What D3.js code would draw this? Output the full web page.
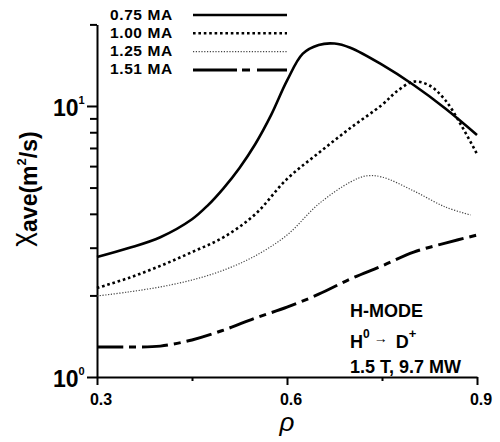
<!DOCTYPE html>
<html lang="en">
<head>
    <meta charset="UTF-8">
    <title>chi ave vs rho</title>
    <script src="https://d3js.org/d3.v7.min.js"></script>
    <style>
        body {
            margin: 0;
            background-color: #fff;
            font-family: "Liberation Sans", Arial, sans-serif;
        }
        .axis path, .axis line {
            stroke: #000;
            stroke-width: 2px;
        }
        .lbl {
            font-weight: bold;
            fill: #000;
        }
    </style>
</head>
<body>
    <svg width="500" height="442"></svg>
    <script>
        // values
        const rho075 = [0.30, 0.35, 0.40, 0.45, 0.475, 0.50, 0.525, 0.55, 0.575, 0.60, 0.625, 0.65, 0.675, 0.70, 0.75, 0.80, 0.85, 0.90];
        const chi075 = [2.77, 2.99, 3.28, 3.82, 4.3, 4.98, 5.91, 7.24, 9.27, 12.4, 15.6, 16.8, 17.0, 16.4, 14.2, 11.95, 9.79, 7.82];

        const rho100 = [0.30, 0.35, 0.40, 0.45, 0.50, 0.55, 0.60, 0.65, 0.70, 0.75, 0.775, 0.80, 0.825, 0.85, 0.875, 0.90];
        const chi100 = [2.13, 2.32, 2.57, 2.89, 3.28, 3.99, 5.38, 6.71, 8.29, 10.1, 11.4, 12.3, 11.9, 10.5, 8.5, 6.65];

        const rho125 = [0.30, 0.35, 0.40, 0.45, 0.50, 0.55, 0.60, 0.65, 0.70, 0.725, 0.75, 0.80, 0.85, 0.89];
        const chi125 = [1.99, 2.06, 2.15, 2.28, 2.48, 2.80, 3.34, 4.35, 5.24, 5.52, 5.47, 4.86, 4.24, 3.96];

        const rho151 = [0.30, 0.35, 0.40, 0.45, 0.50, 0.55, 0.60, 0.65, 0.70, 0.75, 0.80, 0.85, 0.90];
        const chi151 = [1.29, 1.29, 1.30, 1.37, 1.49, 1.65, 1.81, 2.02, 2.30, 2.57, 2.89, 3.12, 3.34];

        const seriesNames = ["0.75 MA", "1.00 MA", "1.25 MA", "1.51 MA"];
        const xTicks = [0.3, 0.6, 0.9];
        const xMinor = [0.45, 0.75];
        const yMajor = [1, 10];
        const yMinor = [2, 3, 4, 5, 6, 7, 8, 9, 20];

        const svg = d3.select("svg");

        const x = d3.scaleLinear().domain([0.3, 0.9]).range([97, 477]);
        const y = d3.scaleLog().domain([1, 20]).range([377, 24.4]);

        const styles = [
            { width: 2.6, dash: null, color: "#000" },
            { width: 2.6, dash: "2.6,2.8", color: "#000" },
            { width: 1.2, dash: "1.2,1.6", color: "#444" },
            { width: 3, dash: "26,6,7,6", color: "#000" }
        ];

        const series = [
            d3.zip(rho075, chi075),
            d3.zip(rho100, chi100),
            d3.zip(rho125, chi125),
            d3.zip(rho151, chi151)
        ];

        // axes
        const yAxis = svg.append("g")
            .attr("class", "axis")
            .attr("transform", "translate(97,0)")
            .call(d3.axisLeft(y).tickValues(yMajor.concat(yMinor)).tickFormat("").tickSizeOuter(0));
        yAxis.selectAll(".tick line").attr("x2", d => yMajor.includes(d) ? -10 : -7);

        const xAxis = svg.append("g")
            .attr("class", "axis")
            .attr("transform", "translate(0,377)")
            .call(d3.axisBottom(x).tickValues(xTicks.concat(xMinor)).tickFormat("").tickSizeOuter(0));
        xAxis.selectAll(".tick line").attr("y2", d => xTicks.includes(d) ? 8 : 4);

        // x tick labels
        svg.append("g").selectAll("text")
            .data(xTicks)
            .join("text")
            .attr("class", "lbl")
            .attr("x", d => x(d) + 4)
            .attr("y", 405)
            .attr("text-anchor", "middle")
            .attr("font-size", 16)
            .text(d => d3.format(".1f")(d));

        // y tick labels 10^n
        const yl = svg.append("g").selectAll("text")
            .data(yMajor)
            .join("text")
            .attr("class", "lbl")
            .attr("x", 53)
            .attr("y", d => y(d) + 10)
            .attr("font-size", 23);
        yl.append("tspan").text("10");
        yl.append("tspan").attr("font-size", 11).attr("dy", -12).text(d => Math.round(Math.log10(d)));

        // y axis label
        const ylab = svg.append("text")
            .attr("transform", "translate(37,189) rotate(-90)")
            .attr("text-anchor", "middle")
            .attr("fill", "#000");
        ylab.append("tspan").attr("font-size", 28).attr("dy", -6).text("χ");
        ylab.append("tspan").attr("font-size", 23).attr("font-weight", "bold").attr("dy", 6).text("ave(m");
        ylab.append("tspan").attr("font-size", 13).attr("font-weight", "bold").attr("dy", -11).text("2");
        ylab.append("tspan").attr("font-size", 23).attr("font-weight", "bold").attr("dy", 11).text("/s)");

        // x axis label
        svg.append("text")
            .attr("x", x(0.6))
            .attr("y", 431)
            .attr("text-anchor", "middle")
            .attr("font-size", 26)
            .attr("font-style", "italic")
            .text("ρ");

        // curves
        const line = d3.line()
            .x(d => x(d[0]))
            .y(d => y(d[1]))
            .curve(d3.curveCatmullRom);

        svg.append("g").selectAll("path")
            .data(series)
            .join("path")
            .attr("fill", "none")
            .attr("stroke", (d, i) => styles[i].color)
            .attr("stroke-width", (d, i) => styles[i].width)
            .attr("stroke-dasharray", (d, i) => styles[i].dash)
            .attr("d", line);

        // legend
        const leg = svg.append("g").selectAll("g")
            .data(seriesNames)
            .join("g")
            .attr("transform", (d, i) => `translate(0,${15 + i * 18.3})`);
        leg.append("text")
            .attr("class", "lbl")
            .attr("x", 110)
            .attr("y", 4.5)
            .attr("font-size", 15.5)
            .attr("letter-spacing", 0.6)
            .text(d => d);
        leg.append("line")
            .attr("x1", 193).attr("x2", 287)
            .attr("stroke", (d, i) => styles[i].color)
            .attr("stroke-width", (d, i) => styles[i].width)
            .attr("stroke-dasharray", (d, i) => i === 3 ? "44,5,8,7" : styles[i].dash);

        // annotation
        svg.append("text").attr("class", "lbl").attr("x", 350).attr("y", 317).attr("font-size", 18).text("H-MODE");
        const reac = svg.append("text").attr("class", "lbl").attr("x", 350).attr("y", 348).attr("font-size", 18);
        reac.append("tspan").text("H");
        reac.append("tspan").attr("font-size", 12).attr("dy", -10).text("0");
        reac.append("tspan").attr("font-size", 14).attr("dx", 4).attr("dy", 5).text("→");
        reac.append("tspan").attr("dx", 8).attr("dy", 5).text("D");
        reac.append("tspan").attr("font-size", 13).attr("dy", -10).text("+");
        svg.append("text").attr("class", "lbl").attr("x", 350).attr("y", 373).attr("font-size", 18).text("1.5 T, 9.7 MW");
    </script>
</body>
</html>
